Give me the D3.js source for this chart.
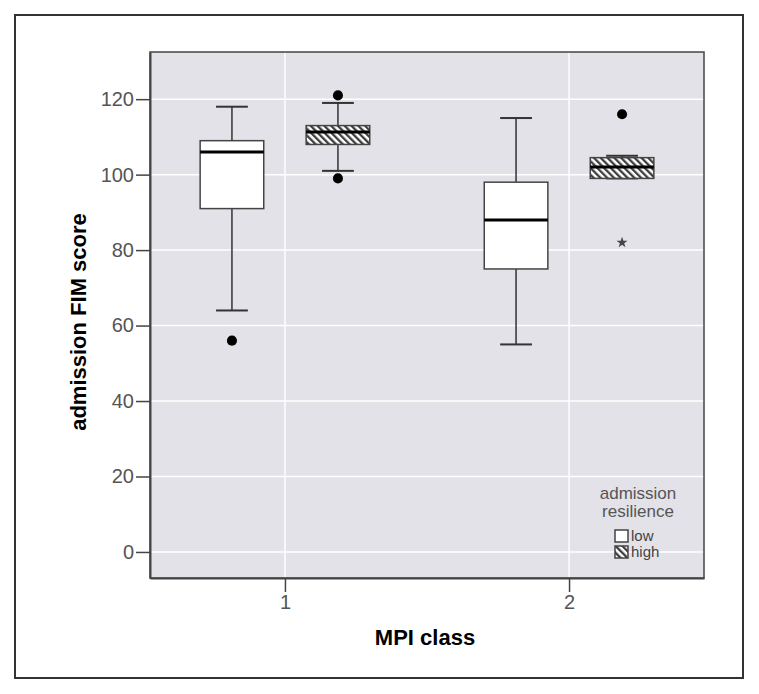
<!DOCTYPE html>
<html>
<head>
<meta charset="utf-8">
<script src="https://cdn.jsdelivr.net/npm/d3@7"></script>
<style>
body { margin: 0; background: #fff; }
text { font-family: "Liberation Sans", Arial, sans-serif; }
</style>
</head>
<body>
<svg></svg>
<script>
var WIDTH = 759;
var HEIGHT = 694;

// data
var categories = ['1', '2'];
var groups = ['low', 'high'];

var minLow = [64, 55];
var q1Low = [91, 75];
var medianLow = [106, 88];
var q3Low = [109, 98];
var maxLow = [118, 115];

var minHigh = [101, 99];
var q1High = [108, 99];
var medianHigh = [111.3, 102];
var q3High = [113, 104.5];
var maxHigh = [119, 105];

// outliers: category, group, value, kind
var outlierCat = ['1', '1', '1', '2', '2'];
var outlierGroup = ['low', 'high', 'high', 'high', 'high'];
var outlierValue = [56, 121, 99, 116, 82];
var outlierKind = ['dot', 'dot', 'dot', 'dot', 'star'];

var yTicks = [0, 20, 40, 60, 80, 100, 120];

var svg = d3.select('svg')
  .attr('width', WIDTH)
  .attr('height', HEIGHT);

var defs = svg.append('defs');
var pat = defs.append('pattern')
  .attr('id', 'hatch')
  .attr('patternUnits', 'userSpaceOnUse')
  .attr('width', 4.8)
  .attr('height', 4.8)
  .attr('patternTransform', 'rotate(-45)');
pat.append('rect').attr('width', 4.8).attr('height', 4.8).attr('fill', '#fff');
pat.append('line')
  .attr('x1', 1.2).attr('y1', 0)
  .attr('x2', 1.2).attr('y2', 4.8)
  .attr('stroke', '#333')
  .attr('stroke-width', 2.2);

// outer frame
svg.append('rect')
  .attr('x', 15).attr('y', 15)
  .attr('width', 728).attr('height', 663)
  .attr('fill', 'none')
  .attr('stroke', '#333')
  .attr('stroke-width', 2);

var pLeft = 150, pRight = 704, pTop = 52, pBottom = 578;

var yScale = d3.scaleLinear().domain([-6.9, 132.5]).range([pBottom, pTop]);
var xScale = d3.scalePoint().domain(categories).range([pLeft, pRight]).padding(0.475);
var sub = d3.scaleBand().domain(groups).range([-106, 106]).paddingInner(0.4).paddingOuter(0.2);

// plot background
svg.append('rect')
  .attr('x', pLeft).attr('y', pTop)
  .attr('width', pRight - pLeft).attr('height', pBottom - pTop)
  .attr('fill', '#e2e2e8');

// grid
svg.append('g').selectAll('line').data(yTicks).enter().append('line')
  .attr('x1', pLeft).attr('x2', pRight)
  .attr('y1', function(d){ return yScale(d); })
  .attr('y2', function(d){ return yScale(d); })
  .attr('stroke', '#fff').attr('stroke-width', 1.5);
svg.append('g').selectAll('line').data(categories).enter().append('line')
  .attr('y1', pTop).attr('y2', pBottom)
  .attr('x1', function(d){ return xScale(d); })
  .attr('x2', function(d){ return xScale(d); })
  .attr('stroke', '#fff').attr('stroke-width', 1.5);

// boxes
var boxes = [];
categories.forEach(function(c, i){
  boxes.push({cat: c, group: 'low', min: minLow[i], q1: q1Low[i], med: medianLow[i], q3: q3Low[i], max: maxLow[i]});
  boxes.push({cat: c, group: 'high', min: minHigh[i], q1: q1High[i], med: medianHigh[i], q3: q3High[i], max: maxHigh[i]});
});

var bw = sub.bandwidth();
var cx = function(d){ return xScale(d.cat) + sub(d.group) + bw / 2; };

var g = svg.append('g').selectAll('g').data(boxes).enter().append('g');

// whisker stems
g.append('line')
  .attr('x1', cx).attr('x2', cx)
  .attr('y1', function(d){ return yScale(d.max); })
  .attr('y2', function(d){ return yScale(d.q3); })
  .attr('stroke', '#333').attr('stroke-width', 1.5);
g.append('line')
  .attr('x1', cx).attr('x2', cx)
  .attr('y1', function(d){ return yScale(d.q1); })
  .attr('y2', function(d){ return yScale(d.min); })
  .attr('stroke', '#333').attr('stroke-width', 1.5);
// caps
['min', 'max'].forEach(function(k){
  g.append('line')
    .attr('x1', function(d){ return cx(d) - bw / 4; })
    .attr('x2', function(d){ return cx(d) + bw / 4; })
    .attr('y1', function(d){ return yScale(d[k]); })
    .attr('y2', function(d){ return yScale(d[k]); })
    .attr('stroke', '#333').attr('stroke-width', 2);
});
// box
g.append('rect')
  .attr('x', function(d){ return cx(d) - bw / 2; })
  .attr('y', function(d){ return yScale(d.q3); })
  .attr('width', bw)
  .attr('height', function(d){ return yScale(d.q1) - yScale(d.q3); })
  .attr('fill', function(d){ return d.group == 'high' ? 'url(#hatch)' : '#fff'; })
  .attr('stroke', '#444').attr('stroke-width', 1.5);
// median
g.append('line')
  .attr('x1', function(d){ return cx(d) - bw / 2; })
  .attr('x2', function(d){ return cx(d) + bw / 2; })
  .attr('y1', function(d){ return yScale(d.med); })
  .attr('y2', function(d){ return yScale(d.med); })
  .attr('stroke', '#000').attr('stroke-width', 3);

// outliers
var outliers = outlierValue.map(function(v, i){
  return {cat: outlierCat[i], group: outlierGroup[i], value: v, kind: outlierKind[i]};
});
svg.append('g').selectAll('path').data(outliers).enter().append('path')
  .attr('d', function(d){
    return d.kind == 'star' ? d3.symbol().type(d3.symbolStar).size(38)() : d3.symbol().type(d3.symbolCircle).size(80)();
  })
  .attr('transform', function(d){ return 'translate(' + cx(d) + ',' + yScale(d.value) + ')'; })
  .attr('fill', function(d){ return d.kind == 'star' ? '#444' : '#000'; });

// plot border
svg.append('rect')
  .attr('x', pLeft).attr('y', pTop)
  .attr('width', pRight - pLeft).attr('height', pBottom - pTop)
  .attr('fill', 'none')
  .attr('stroke', '#444').attr('stroke-width', 1.5);

// axes
var leftAxis = d3.axisLeft(yScale).tickValues(yTicks).tickSize(14).tickSizeOuter(0).tickPadding(2);
var ya = svg.append('g').attr('transform', 'translate(' + pLeft + ',0)').call(leftAxis);
var bottomAxis = d3.axisBottom(xScale).tickSize(14).tickSizeOuter(0).tickPadding(3);
var xa = svg.append('g').attr('transform', 'translate(0,' + pBottom + ')').call(bottomAxis);
[ya, xa].forEach(function(a){
  a.select('.domain').attr('stroke', '#444').attr('stroke-width', 2);
  a.selectAll('.tick line').attr('stroke', '#444').attr('stroke-width', 1.5);
  a.selectAll('.tick text').attr('fill', '#555').style('font-size', '20px')
    .style('font-family', '"Liberation Sans", Arial, sans-serif');
});

// axis titles
svg.append('text')
  .attr('x', 425).attr('y', 645)
  .attr('text-anchor', 'middle')
  .style('font-size', '22px').style('font-weight', 'bold')
  .text('MPI class');
svg.append('text')
  .attr('transform', 'translate(86,322) rotate(-90)')
  .attr('text-anchor', 'middle')
  .style('font-size', '22px').style('font-weight', 'bold')
  .text('admission FIM score');

// legend
var lg = svg.append('g');
lg.append('text').attr('x', 638).attr('y', 499).attr('text-anchor', 'middle')
  .attr('fill', '#555').style('font-size', '17px').text('admission');
lg.append('text').attr('x', 638).attr('y', 517).attr('text-anchor', 'middle')
  .attr('fill', '#555').style('font-size', '17px').text('resilience');
groups.forEach(function(gr, i){
  lg.append('rect')
    .attr('x', 615).attr('y', 530 + i * 16)
    .attr('width', 13).attr('height', 12)
    .attr('fill', gr == 'high' ? 'url(#hatch)' : '#fff')
    .attr('stroke', '#444').attr('stroke-width', 1.5);
  lg.append('text').attr('x', 631).attr('y', 541 + i * 16)
    .attr('fill', '#444').style('font-size', '15px').text(gr);
});
</script>
</body>
</html>
